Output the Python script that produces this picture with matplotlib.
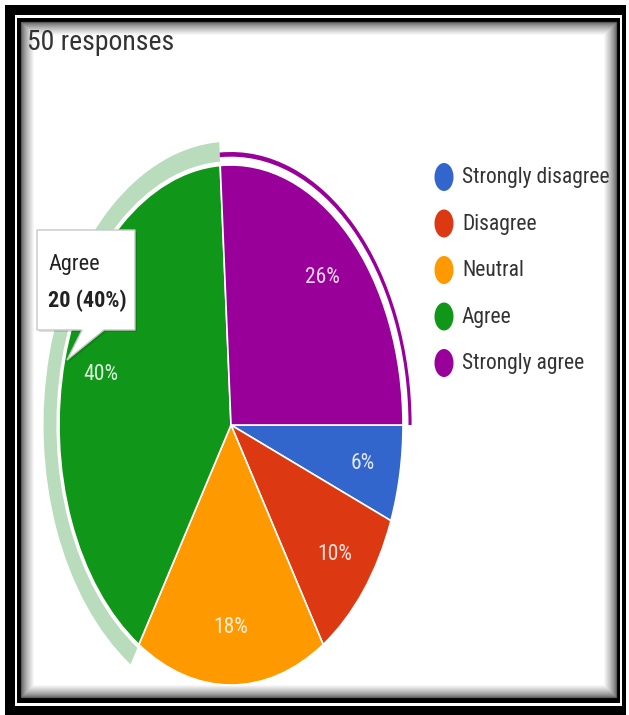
import numpy as np
import matplotlib
matplotlib.use("Agg")
import matplotlib.pyplot as plt
from matplotlib.patches import Rectangle, Ellipse, Polygon, Wedge

plt.rcParams['font.family'] = ['Roboto Condensed', 'Roboto', 'DejaVu Sans']

# -------- data --------
labels = ["Strongly disagree", "Disagree", "Neutral", "Agree", "Strongly agree"]
counts = [3, 5, 9, 20, 13]
colors = ["#3366cc", "#dc3912", "#ff9900", "#109618", "#990099"]
total = sum(counts)
hover_idx = 3      # slice with tooltip + light ring
select_idx = 4     # slice with thin outer ring

W, H = 629, 715
fig = plt.figure(figsize=(W / 100, H / 100), dpi=100)
fig.patch.set_facecolor("white")

# background axes in pixel coords for the frame
bg = fig.add_axes([0, 0, 1, 1], zorder=0)
bg.set_xlim(0, W)
bg.set_ylim(H, 0)
bg.axis("off")

bg.add_patch(Rectangle((5, 5), 621, 710, facecolor="black", lw=0))
bg.add_patch(Rectangle((15, 15), 607, 691, facecolor="white", lw=0))
bg.add_patch(Rectangle((17, 18), 603, 685, facecolor="black", lw=0))
bg.add_patch(Rectangle((21, 22), 595, 675, facecolor="white", lw=0))
# inner soft shadow
for i in range(14):
    g = 0.35 + 0.65 * (i / 13) ** 0.7
    bg.add_patch(Rectangle((21 + i, 22 + i), 595 - 2 * i, 675 - 2 * i,
                           fill=False, edgecolor=(g, g, g), lw=0.9))

# -------- pie --------
cx, cy, rx, ry = 231, 425, 172, 260
xl, yl = 1.2, 1.2
ax = fig.add_axes([(cx - xl * rx) / W, (H - cy - yl * ry) / H,
                   2 * xl * rx / W, 2 * yl * ry / H], zorder=1)
ax.patch.set_alpha(0)

wedges, _, autotexts = ax.pie(
    counts, colors=colors, startangle=0, counterclock=False,
    autopct=lambda p: f"{p:.0f}%", pctdistance=0.78,
    wedgeprops=dict(edgecolor="white", linewidth=1.2),
    textprops=dict(color="white", alpha=0.85, fontsize=15.5))
ax.set_aspect("auto")
ax.set_xlim(-xl, xl)
ax.set_ylim(-yl, yl)
ax.axis("off")

# angles of each slice (degrees, math convention)
cum = np.cumsum([0] + counts) / total * 360
t_start = -cum[:-1]
t_end = -cum[1:]

ax.add_patch(Wedge((0, 0), 1.09, t_end[hover_idx], t_start[hover_idx],
                   width=0.075, facecolor="#b9dcbc", lw=0))
ax.add_patch(Wedge((0, 0), 1.05, t_end[select_idx], t_start[select_idx],
                   width=0.018, facecolor=colors[select_idx], lw=0))

# -------- overlay: title, legend, tooltip --------
ov = fig.add_axes([0, 0, 1, 1], zorder=2)
ov.set_xlim(0, W)
ov.set_ylim(H, 0)
ov.axis("off")

ov.text(27, 50, f"{total} responses", fontsize=20, color="#333333", va="baseline")

for i, (lab, col) in enumerate(zip(labels, colors)):
    y = 177 + i * 46.5
    ov.add_patch(Ellipse((444, y), 19, 28, facecolor=col, lw=0))
    ov.text(462, y + 1, lab, fontsize=15.5, color="#333333", va="center")

# tooltip
tip = [(37, 230), (135, 230), (135, 330), (104, 330), (67, 360), (82, 330), (37, 330)]
shadow = [(x + 2, y + 2) for x, y in tip]
ov.add_patch(Polygon(shadow, closed=True, facecolor="#000000", alpha=0.12, lw=0))
ov.add_patch(Polygon(tip, closed=True, facecolor="white", edgecolor="#c8c8c8", lw=1))
ov.text(48, 270, labels[hover_idx], fontsize=16, color="#222222", va="baseline")
ov.text(48, 307, f"{counts[hover_idx]} ({counts[hover_idx] / total:.0%})",
        fontsize=16, fontweight="bold", color="#222222", va="baseline")

fig.savefig("out.png", dpi=100)
